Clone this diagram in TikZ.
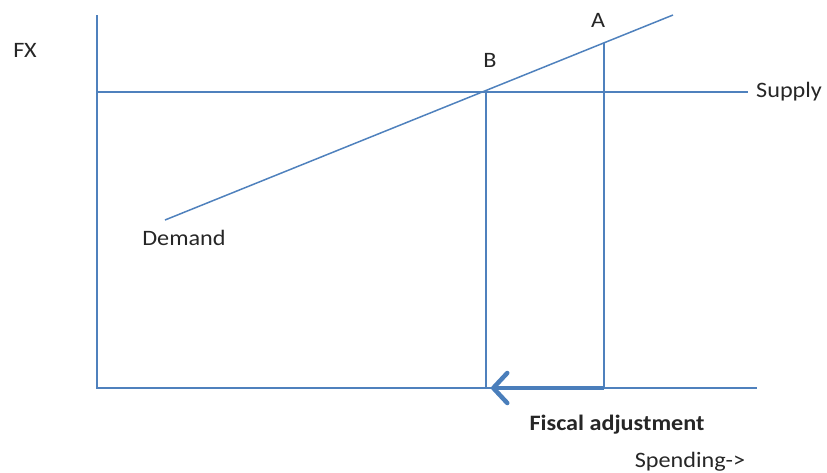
\documentclass[tikz,border=0pt]{standalone}
\usepackage{fontspec}
\setmainfont{Carlito}
\usetikzlibrary{arrows.meta}
\definecolor{ln}{HTML}{4F81BD}
\definecolor{arr}{HTML}{4A7EBB}
\begin{document}
\begin{tikzpicture}[x=1pt,y=-1pt,
  axis/.style={draw=ln,line width=1.5pt},
  lbl/.style={font=\fontsize{22}{24}\selectfont,text=black!85,inner sep=0pt,xscale=1.1},
  blbl/.style={lbl,font=\fontsize{22}{24}\selectfont\bfseries}]
\useasboundingbox (0,0) rectangle (827,472);
\coordinate (ytop) at (97,15);
\coordinate (o) at (97,388);
\coordinate (xend) at (757,388);
\coordinate (s0) at (97,92);
\coordinate (s1) at (748,92);
\coordinate (d0) at (165,220);
\coordinate (d1) at (673,15);
\coordinate (B) at (486,91);
\coordinate (Bb) at (486,388);
\coordinate (A) at (604,43);
\coordinate (Ab) at (604,388);
\draw[axis] (ytop) -- (o) -- (xend);
\draw[axis] (s0) -- (s1);
\draw[axis] (d0) -- (d1);
\draw[axis] (B) -- (Bb);
\draw[axis] (A) -- (Ab);
\draw[draw=arr,line width=4.5pt,-{Straight Barb[length=14pt,width=30pt,line width=4.5pt,round]}] (Ab) -- (491,388);
\node[lbl] (fx) at (25,50) {FX};
\node[lbl] (lb) at (490,60) {B};
\node[lbl] (la) at (598,20) {A};
\node[lbl,anchor=west] (sup) at (756,92) {Supply};
\node[lbl] (dem) at (184,238) {Demand};
\node[blbl] (fis) at (617,425) {Fiscal adjustment};
\node[lbl] (spd) at (690,462) {Spending->};
\end{tikzpicture}
\end{document}
